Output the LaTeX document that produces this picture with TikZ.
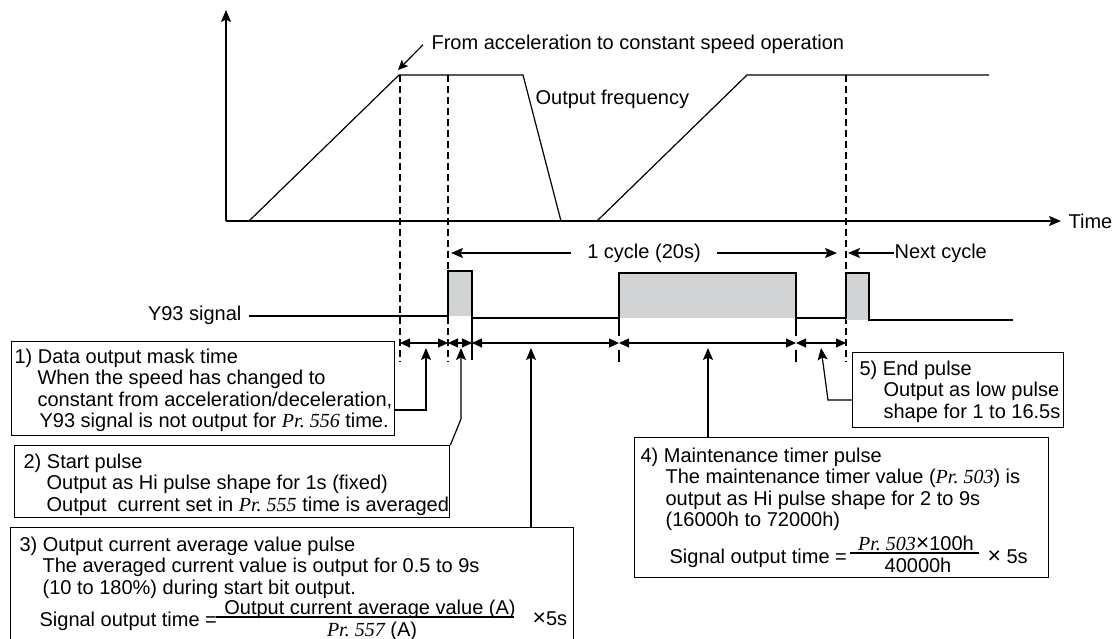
\documentclass[tikz,border=0pt]{standalone}
\usepackage{fontspec}
\setmainfont{Liberation Sans}
\newfontfamily\prfont{Liberation Serif}
\usepackage{xcolor}
\usepackage{tikz}
\usetikzlibrary{arrows.meta,positioning}
\definecolor{pulsegray}{RGB}{209,211,212}
\newcommand\prno[1]{{\prfont\itshape Pr.\ #1}}

\begin{document}
\begin{tikzpicture}[x=1pt,y=-1pt,line width=1.2pt,
  lbl/.style={font=\fontsize{20}{21.3}\selectfont,inner sep=0pt},
  infobox/.style={draw,line width=1.4pt,anchor=north west,inner sep=0pt},
  boxtext/.style={lbl,align=left,anchor=north west},
  guide/.style={dash pattern=on 7pt off 4pt},
  ptr/.style={-{Stealth[length=12pt,width=10pt,inset=2.5pt]}},
  dimarrow/.style={{Triangle[length=10pt,width=9pt]}-{Triangle[length=10pt,width=9pt]}}]
\useasboundingbox (0,0) rectangle (1114,639);
% axes
\coordinate (origin) at (226,221); \coordinate (yTop) at (226,10); \coordinate (xEnd) at (1061,221);
\draw[-{Stealth[length=12pt,width=10pt,inset=2.5pt]}] (origin) -- (yTop);
\draw[-{Stealth[length=12pt,width=10pt,inset=2.5pt]}] (origin) -- (xEnd);
\node[lbl,anchor=base west] (timelbl) at (1068,229) {Time};
% output frequency
\draw (249,221) -- (399,75) -- (523,75) -- (561,221);
\draw (597,221) -- (747,75) -- (989,75);
\node[lbl,anchor=base west] (freqlbl) at (535,105) {Output frequency};
\node[lbl,anchor=base west] (fromlbl) at (431,50) {From acceleration to constant speed operation};
\coordinate (fromTip) at (398,70);
\draw[-{Stealth[length=10pt,width=9pt,inset=2pt]}] ([xshift=-8pt]fromlbl.west) -- (fromTip);
% guide lines
\foreach \x in {400,448,846} \draw[guide] (\x,75) -- (\x,362);
% cycle arrows
\coordinate (cycL) at (451,253); \coordinate (cycR) at (837,253);
\draw[{Stealth[length=12pt,width=10pt,inset=2.5pt]}-{Stealth[length=12pt,width=10pt,inset=2.5pt]}] (cycL) -- (cycR)
  node[lbl,midway,fill=white,inner xsep=16pt,inner ysep=2pt] (cyclbl) {1 cycle (20s)};
\node[lbl,anchor=west] (nxt) at (894,253) {Next cycle};
\coordinate (nxtTip) at (848,253);
\draw[ptr] (nxt.west) -- (nxtTip);
% Y93 signal
\node[lbl,anchor=base east] (ylbl) at (242,320) {Y93 signal};
\fill[pulsegray] (448,271) rectangle (472,316);
\fill[pulsegray] (619,273) rectangle (796,318);
\fill[pulsegray] (846,273) rectangle (869,320);
\coordinate (sig0) at (249,316);
\draw (sig0) -- (448,316) -- (448,271) -- (472,271) -- (472,318) -- (619,318) -- (619,273)
  -- (796,273) -- (796,318) -- (846,318) -- (846,273) -- (869,273) -- (869,320) -- (1013,320);
% ticks below the pulses
\draw (472,318) -- (472,360);
\foreach \x in {619,796} {\draw (\x,318) -- (\x,336); \draw (\x,350) -- (\x,362);}
% time spans
\coordinate (d0) at (400,343); \coordinate (d1) at (448,343); \coordinate (d2) at (472,343);
\coordinate (d3) at (619,343); \coordinate (d4) at (796,343); \coordinate (d5) at (846,343);
\foreach \a/\b in {d0/d1,d1/d2,d2/d3,d3/d4,d4/d5} \draw[dimarrow] (\a) -- (\b);
% 1) mask time
\node[infobox,minimum width=383pt,minimum height=94pt] (mask) at (11,341) {};
\node[boxtext,below right=7.4pt and 3pt of mask.north west] (masktxt) {1) Data output mask time\\
  \hspace*{23pt}When the speed has changed to\\
  \hspace*{23pt}constant from acceleration/deceleration,\\
  \hspace*{25pt}Y93 signal is not output for \prno{556} time.};
% 2) start pulse
\node[infobox,minimum width=435pt,minimum height=72pt] (startp) at (14,445) {};
\node[boxtext,below right=8.4pt and 9pt of startp.north west] (starttxt) {2) Start pulse\\
  \hspace*{23pt}Output as Hi pulse shape for 1s (fixed)\\
  \hspace*{23pt}Output\ \ current set in \prno{555} time is averaged};
% 3) output current average value
\node[infobox,minimum width=563pt,minimum height=114pt] (avgp) at (10,527) {};
\node[boxtext,below right=9.4pt and 9pt of avgp.north west] (avgtxt) {3) Output current average value pulse\\
  \hspace*{23pt}The averaged current value is output for 0.5 to 9s\\
  \hspace*{23pt}(10 to 180\%) during start bit output.};
\node[lbl,anchor=base west] (sot3) at (39,626) {Signal output time =};
\node[lbl,anchor=base] (num3) at (370,614) {Output current average value (A)};
\node[lbl,anchor=base] (den3) at (372,636) {\prno{557} (A)};
\draw (216,617) -- (514,617);
\node[lbl,anchor=base west] (times3) at (532,625) {\fontsize{23}{23}\selectfont×\fontsize{20}{21.3}\selectfont5s};
% 4) maintenance timer
\node[infobox,minimum width=414pt,minimum height=140pt] (maint) at (634,437) {};
\node[boxtext,below right=10.4pt and 6pt of maint.north west] (mainttxt) {4) Maintenance timer pulse\\
  \hspace*{25pt}The maintenance timer value (\prno{503}) is\\
  \hspace*{25pt}output as Hi pulse shape for 2 to 9s\\
  \hspace*{25pt}(16000h to 72000h)};
\node[lbl,anchor=base west] (sot4) at (669,563) {Signal output time =};
\node[lbl,anchor=base] (num4) at (916,550) {\prno{503}{\fontsize{23}{23}\selectfont×}100h};
\node[lbl,anchor=base] (den4) at (918,572) {40000h};
\draw (850,553) -- (979,553);
\node[lbl,anchor=base west] (times4) at (987,563) {{\fontsize{23}{23}\selectfont×} 5s};
% 5) end pulse
\node[infobox,minimum width=211pt,minimum height=75pt] (endp) at (852,352) {};
\node[boxtext,below right=8.4pt and 7pt of endp.north west] (endtxt) {5) End pulse\\
  \hspace*{24pt}Output as low pulse\\
  \hspace*{24pt}shape for 1 to 16.5s};
% pointers
\coordinate (a1) at (426,348); \coordinate (k1) at (426,410);
\coordinate (a2) at (461,348); \coordinate (k2) at (461,419);
\coordinate (a3) at (531,348); \coordinate (a4) at (708,348);
\coordinate (a5) at (821,348); \coordinate (k5) at (828,400);
\draw[ptr] (mask.east |- k1) -- (k1) -- (a1);
\draw[ptr] (startp.north east) -- (k2) -- (a2);
\draw[ptr] (avgp.north -| a3) -- (a3);
\draw[ptr] (maint.north -| a4) -- (a4);
\draw[ptr] (endp.west |- k5) -- (k5) -- (a5);
\end{tikzpicture}
\end{document}
